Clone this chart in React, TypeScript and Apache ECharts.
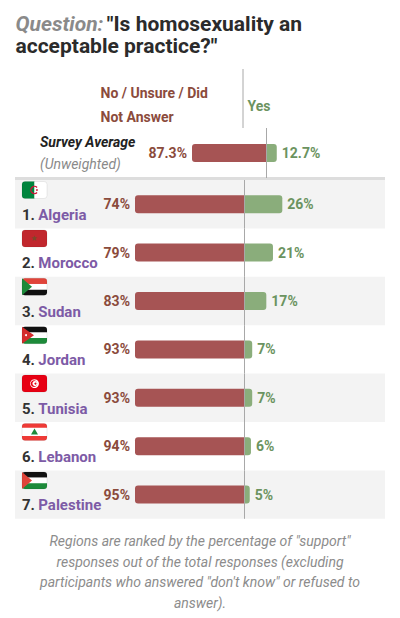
import { useEffect, useRef } from "react"
import * as echarts from "echarts"

// survey values (percent)
const countries = ["Algeria", "Morocco", "Sudan", "Jordan", "Tunisia", "Lebanon", "Palestine"]
const flagCodes = ["dz", "ma", "sd", "jo", "tn", "lb", "ps"]
const noValues = [74, 79, 83, 93, 93, 94, 95]
const yesValues = [26, 21, 17, 7, 7, 6, 5]
const averageNo = 87.3
const averageYes = 12.7

const footnote = [
  'Regions are ranked by the percentage of "support"',
  "responses out of the total responses (excluding",
  'participants who answered "don\'t know" or refused to',
  "answer).",
]

const FONT = "Roboto, 'Noto Sans', sans-serif"
const RED = "#a65454"
const GREEN = "#8aad7b"
const NO_TEXT = "#8b4b3c"
const YES_TEXT = "#6b9360"
const PURPLE = "#7d5ba6"
const DARK = "#333333"

// layout
const ROW_TOP = 180
const ROW_H = 48.4
const BAR_LEFT = 135
const ZERO_X = 244
const AVG_LEFT = 192
const AVG_ZERO = 266

function starPoints(cx: number, cy: number, R: number, r: number) {
  const pts: number[][] = []
  for (let k = 0; k < 10; k++) {
    const a = -Math.PI / 2 + (k * Math.PI) / 5
    const rad = k % 2 === 0 ? R : r
    pts.push([cx + rad * Math.cos(a), cy + rad * Math.sin(a)])
  }
  return pts
}

function flagShapes(code: string, x: number, y: number): any[] {
  const w = 25
  const h = 17
  const s = h / 3
  const cx = x + w / 2
  const cy = y + h / 2
  const stripes = (cols: string[]) =>
    cols.map((c, k) => ({
      type: "rect",
      shape: {
        x,
        y: y + k * s,
        width: w,
        height: s + (k < 2 ? 0.3 : 0),
        r: k === 0 ? [3, 3, 0, 0] : k === 2 ? [0, 0, 3, 3] : 0,
      },
      style: { fill: c },
    }))
  let out: any[] = []
  switch (code) {
    case "dz":
      out = [
        { type: "rect", shape: { x, y, width: w / 2, height: h, r: [3, 0, 0, 3] }, style: { fill: "#00843d" } },
        { type: "rect", shape: { x: cx, y, width: w / 2, height: h, r: [0, 3, 3, 0] }, style: { fill: "#ffffff" } },
        {
          type: "arc",
          shape: { cx, cy, r: 3.6, startAngle: Math.PI * 0.25, endAngle: Math.PI * 1.75 },
          style: { stroke: "#d21034", lineWidth: 1.3, fill: "none" },
        },
        { type: "circle", shape: { cx: cx + 2.4, cy, r: 0.9 }, style: { fill: "#d21034" } },
      ]
      break
    case "ma":
      out = [
        { type: "rect", shape: { x, y, width: w, height: h, r: 3 }, style: { fill: "#c1272d" } },
        { type: "polygon", shape: { points: starPoints(cx, cy, 3.2, 1.3) }, style: { fill: "#7a4a2a" } },
      ]
      break
    case "sd":
      out = [
        ...stripes(["#e0443a", "#ffffff", "#111111"]),
        { type: "polygon", shape: { points: [[x, y], [x + 10, cy], [x, y + h]] }, style: { fill: "#1d8a3a" } },
      ]
      break
    case "jo":
      out = [
        ...stripes(["#111111", "#ffffff", "#1d8a3a"]),
        { type: "polygon", shape: { points: [[x, y], [x + 12, cy], [x, y + h]] }, style: { fill: "#d42b2b" } },
        { type: "circle", shape: { cx: x + 4, cy, r: 1 }, style: { fill: "#ffffff" } },
      ]
      break
    case "tn":
      out = [
        { type: "rect", shape: { x, y, width: w, height: h, r: 3 }, style: { fill: "#e70013" } },
        { type: "circle", shape: { cx, cy, r: 4.4 }, style: { fill: "#ffffff" } },
        { type: "circle", shape: { cx: cx - 0.5, cy, r: 3.3 }, style: { fill: "#e70013" } },
        { type: "circle", shape: { cx: cx + 0.5, cy, r: 2.6 }, style: { fill: "#ffffff" } },
        { type: "circle", shape: { cx: cx + 1, cy, r: 1 }, style: { fill: "#e70013" } },
      ]
      break
    case "lb":
      out = [
        { type: "rect", shape: { x, y, width: w, height: h * 0.27, r: [3, 3, 0, 0] }, style: { fill: "#ee3a36" } },
        { type: "rect", shape: { x, y: y + h * 0.25, width: w, height: h * 0.5 }, style: { fill: "#ffffff" } },
        { type: "rect", shape: { x, y: y + h * 0.73, width: w, height: h * 0.27, r: [0, 0, 3, 3] }, style: { fill: "#ee3a36" } },
        { type: "polygon", shape: { points: [[cx, y + 5], [cx + 3.5, y + 11], [cx - 3.5, y + 11]] }, style: { fill: "#1d8a3a" } },
      ]
      break
    case "ps":
      out = [
        ...stripes(["#111111", "#ffffff", "#1d8a3a"]),
        { type: "polygon", shape: { points: [[x, y], [x + 10, cy], [x, y + h]] }, style: { fill: "#e0443a" } },
      ]
      break
  }
  out.push({
    type: "rect",
    shape: { x, y, width: w, height: h, r: 3 },
    style: { fill: "none", stroke: "rgba(0,0,0,0.12)", lineWidth: 0.6 },
  })
  return out
}

const zeroMark = (value: number) => ({
  silent: true,
  symbol: "none",
  label: { show: false },
  lineStyle: { color: "#a8a8a8", width: 1, type: "solid" },
  data: [{ xAxis: value }],
})

export default function App() {
  const chartRef = useRef<HTMLDivElement>(null)

  useEffect(() => {
    document.body.style.margin = "0"
    if (!chartRef.current) return
    const chart = echarts.init(chartRef.current, null, { renderer: "svg" })

    const grids: any[] = []
    const xAxes: any[] = []
    const yAxes: any[] = []
    const series: any[] = []

    const addRow = (idx: number, name: string, no: number, yes: number, left: number, zero: number, top: number, height: number) => {
      grids.push({ left, top, height, width: ((zero - left) * 100) / no })
      xAxes.push({ gridIndex: idx, type: "value", min: 0, max: 100, show: false })
      yAxes.push({ gridIndex: idx, type: "category", data: [name], show: false })
      const labelBase = { show: true, distance: 5, fontFamily: FONT, fontSize: 14, fontWeight: "bold", formatter: "{c}%" }
      series.push({
        type: "bar",
        xAxisIndex: idx,
        yAxisIndex: idx,
        stack: "row" + idx,
        barWidth: 18,
        data: [no],
        itemStyle: { color: RED, borderRadius: [3, 0, 0, 3] },
        label: { ...labelBase, position: "left", color: NO_TEXT },
        markLine: zeroMark(no),
      })
      series.push({
        type: "bar",
        xAxisIndex: idx,
        yAxisIndex: idx,
        stack: "row" + idx,
        barWidth: 18,
        data: [yes],
        itemStyle: { color: GREEN, borderRadius: [0, 3, 3, 0] },
        label: { ...labelBase, position: "right", color: YES_TEXT },
      })
    }

    countries.forEach((c, i) => {
      addRow(i, c, noValues[i], yesValues[i], BAR_LEFT, ZERO_X, ROW_TOP + i * ROW_H, ROW_H)
    })
    addRow(countries.length, "Survey Average", averageNo, averageYes, AVG_LEFT, AVG_ZERO, 128, 50)

    const graphics: any[] = []
    countries.forEach((c, i) => {
      const top = ROW_TOP + i * ROW_H
      if (i % 2 === 0) {
        graphics.push({
          type: "rect",
          z: -10,
          shape: { x: 15, y: top, width: 370, height: ROW_H },
          style: { fill: "#f3f3f3" },
        })
      }
      graphics.push(...flagShapes(flagCodes[i], 22, top + 1.5))
      graphics.push({
        type: "text",
        x: 22,
        y: top + 35,
        style: {
          text: `{n|${i + 1}.} {c|${c}}`,
          verticalAlign: "middle",
          rich: {
            n: { fontFamily: FONT, fontSize: 15, fontWeight: "bold", fill: DARK },
            c: { fontFamily: FONT, fontSize: 15, fontWeight: "bold", fill: PURPLE },
          },
        },
      })
    })

    graphics.push(
      {
        type: "text",
        x: 15.5,
        y: 13,
        style: {
          text: '{q|Question:} {t|"Is homosexuality an}\n{t|acceptable practice?"}',
          rich: {
            q: { fontFamily: FONT, fontSize: 21, fontWeight: "bold", fontStyle: "italic", fill: "#8a8a8a", lineHeight: 22 },
            t: { fontFamily: FONT, fontSize: 21, fontWeight: "bold", fill: "#2b2b2b", lineHeight: 22 },
          },
        },
      },
      {
        type: "text",
        x: 100.5,
        y: 105,
        style: {
          text: "No / Unsure / Did\nNot Answer",
          fontFamily: FONT,
          fontSize: 14,
          fontWeight: "bold",
          fill: NO_TEXT,
          lineHeight: 24,
          verticalAlign: "middle",
        },
      },
      {
        type: "text",
        x: 247.5,
        y: 106,
        style: { text: "Yes", fontFamily: FONT, fontSize: 14, fontWeight: "bold", fill: YES_TEXT, verticalAlign: "middle" },
      },
      {
        type: "line",
        shape: { x1: ZERO_X - 1, y1: 69, x2: ZERO_X - 1, y2: 128 },
        style: { stroke: "#a8a8a8", lineWidth: 1 },
      },
      {
        type: "text",
        x: 40,
        y: 142,
        style: {
          text: "Survey Average",
          fontFamily: FONT,
          fontSize: 14,
          fontWeight: "bold",
          fontStyle: "italic",
          fill: "#222222",
          verticalAlign: "middle",
        },
      },
      {
        type: "text",
        x: 40,
        y: 163.5,
        style: { text: "(Unweighted)", fontFamily: FONT, fontSize: 14, fontStyle: "italic", fill: "#8a8a8a", verticalAlign: "middle" },
      },
      {
        type: "rect",
        shape: { x: 15, y: 177, width: 370, height: 3 },
        style: { fill: "#dddddd" },
      },
      {
        type: "text",
        x: 200,
        y: 531,
        style: {
          text: footnote.join("\n"),
          fontFamily: FONT,
          fontSize: 14,
          fontStyle: "italic",
          fill: "#8c8c8c",
          lineHeight: 20.5,
          align: "center",
          verticalAlign: "top",
        },
      }
    )

    chart.setOption({
      animation: false,
      grid: grids,
      xAxis: xAxes,
      yAxis: yAxes,
      series,
      graphic: graphics,
    })

    return () => {
      chart.dispose()
    }
  }, [])

  return <div ref={chartRef} style={{ width: 400, height: 618, background: "#ffffff" }} />
}
